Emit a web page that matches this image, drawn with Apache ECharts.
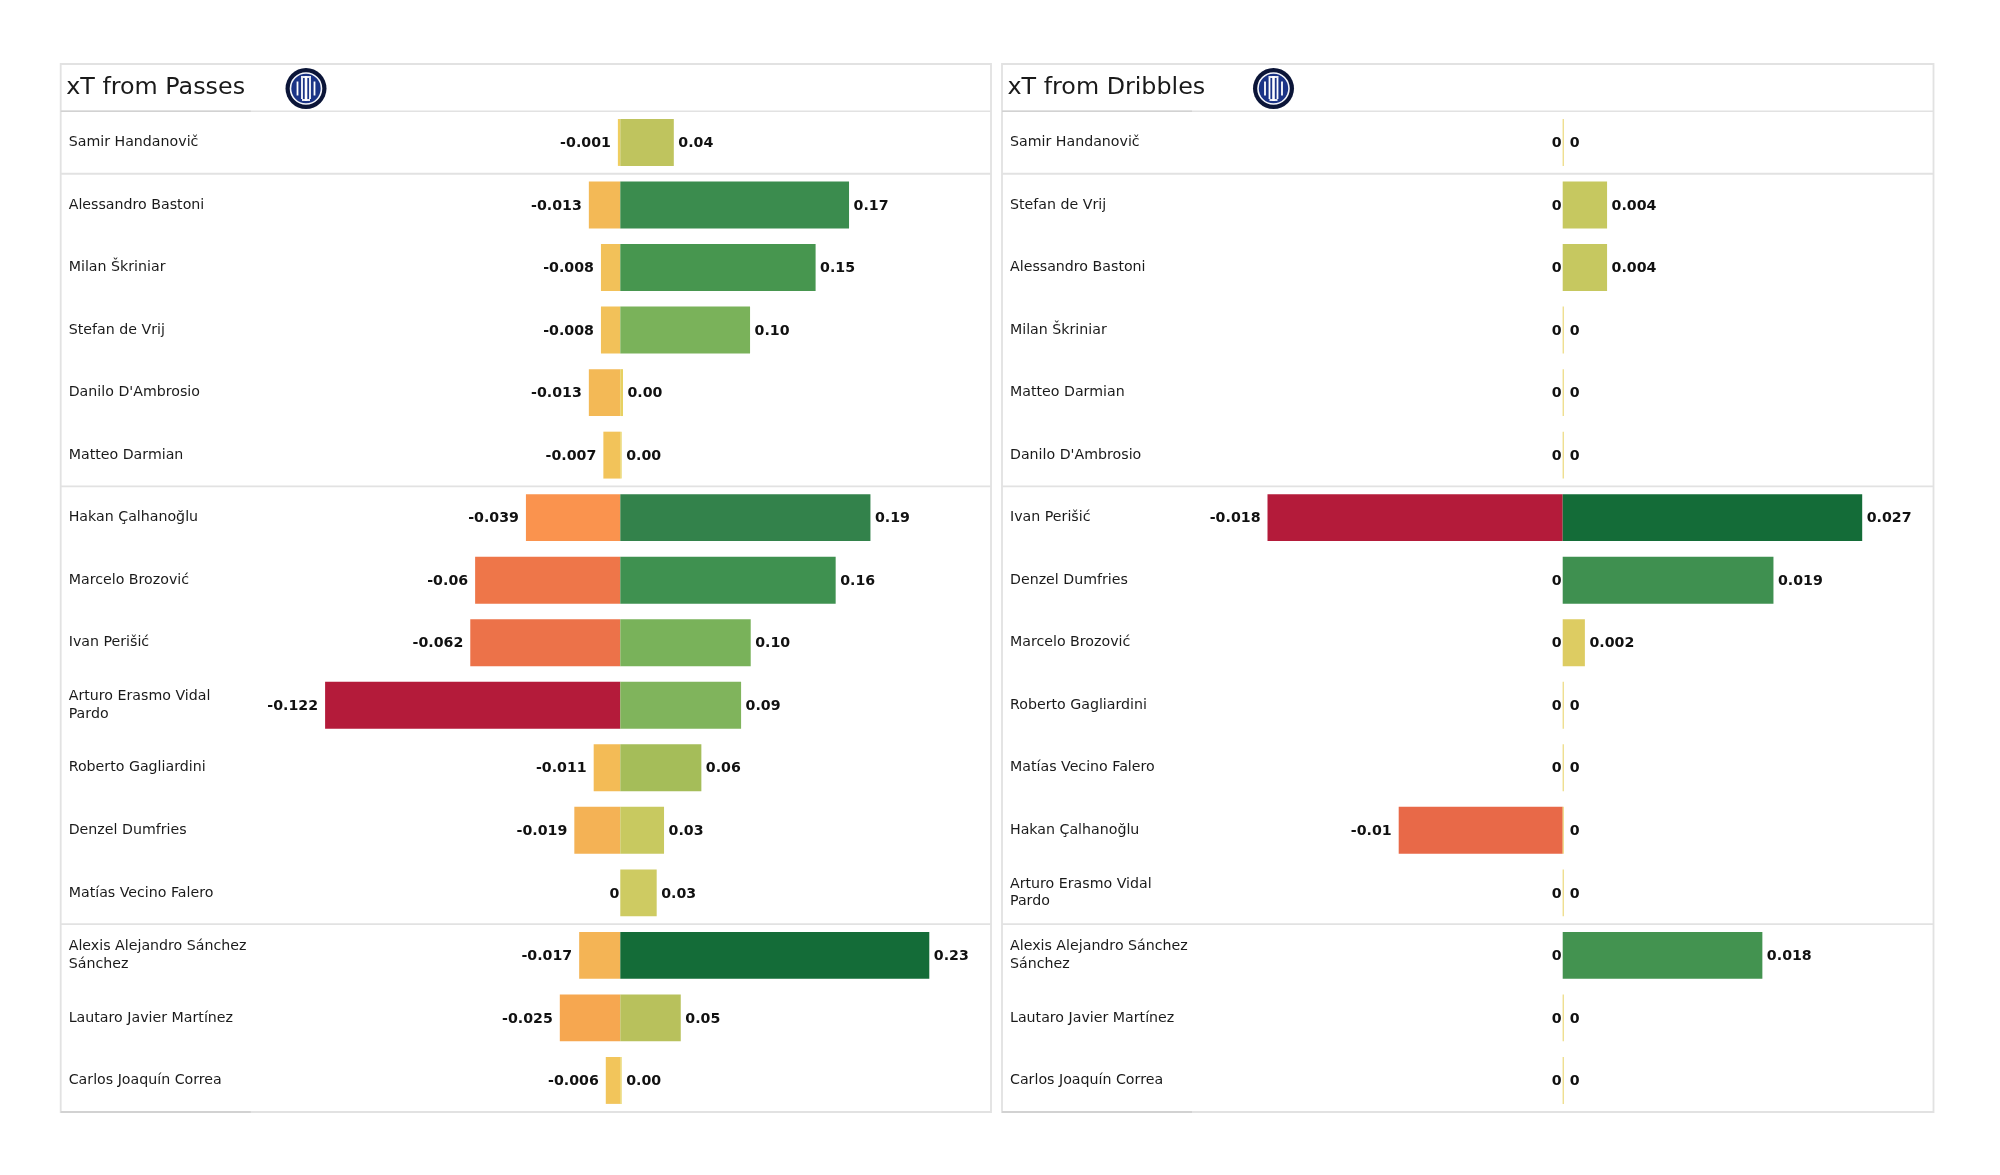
<!DOCTYPE html>
<html><head><meta charset="utf-8">
<style>html,body{margin:0;padding:0;background:#fff}#c{width:2000px;height:1175px}</style>
<script src="https://cdn.jsdelivr.net/npm/echarts@6/dist/echarts.min.js"></script>
</head><body><div id="c"></div>
<script>
const passPlayers = ["Samir Handanovič","Alessandro Bastoni","Milan Škriniar","Stefan de Vrij","Danilo D'Ambrosio","Matteo Darmian","Hakan Çalhanoğlu","Marcelo Brozović","Ivan Perišić","Arturo Erasmo Vidal\nPardo","Roberto Gagliardini","Denzel Dumfries","Matías Vecino Falero","Alexis Alejandro Sánchez\nSánchez","Lautaro Javier Martínez","Carlos Joaquín Correa"];
const passNeg = [-0.001,-0.013,-0.008,-0.008,-0.013,-0.007,-0.039,-0.06,-0.062,-0.122,-0.011,-0.019,0,-0.017,-0.025,-0.006];
const passPos = [0.040,0.171,0.146,0.097,0.002,0.001,0.187,0.161,0.0975,0.0903,0.0606,0.0327,0.0272,0.231,0.0452,0.001];
const dribPlayers = ["Samir Handanovič","Stefan de Vrij","Alessandro Bastoni","Milan Škriniar","Matteo Darmian","Danilo D'Ambrosio","Ivan Perišić","Denzel Dumfries","Marcelo Brozović","Roberto Gagliardini","Matías Vecino Falero","Hakan Çalhanoğlu","Arturo Erasmo Vidal\nPardo","Alexis Alejandro Sánchez\nSánchez","Lautaro Javier Martínez","Carlos Joaquín Correa"];
const dribNeg = [0,0,0,0,0,0,-0.018,0,0,0,0,-0.01,0,0,0,0];
const dribPos = [0,0.004,0.004,0,0,0,0.027,0.019,0.002,0,0,0,0,0.018,0,0];
const groupEnds = [0,5,12];

const FONT = '"DejaVu Sans"';
const gridTop = 111.2, gridH = 1000.5, rowH = gridH / 16;
const panels = [
  {title:'xT from Passes', left:60.7, right:991, zero:620.3, names:passPlayers, neg:passNeg, pos:passPos,
   negReach:295.2, posReach:309, fmt:v=>v.toFixed(2), logoX:306},
  {title:'xT from Dribbles', left:1002, right:1933.5, zero:1562.7, names:dribPlayers, neg:dribNeg, pos:dribPos,
   negReach:295.2, posReach:299.5, fmt:v=>v===0?'0':v.toFixed(3), logoX:1273.5}
];

const negStops = [[0,'#eed061'],[0.05,'#f2c55b'],[0.09,'#f3bb56'],[0.16,'#f4b155'],[0.2,'#f6a850'],[0.32,'#fa934e'],[0.49,'#ee7649'],[0.55,'#e96a48'],[1,'#b41b3a']];
const posStops = [[0,'#e8d262'],[0.074,'#ddcc62'],[0.12,'#cdcb62'],[0.148,'#c6c860'],[0.2,'#b7c05c'],[0.26,'#a6bd59'],[0.39,'#80b45c'],[0.42,'#7ab25a'],[0.63,'#47964f'],[0.7,'#3f9150'],[0.81,'#33824b'],[1,'#146c38']];
function hex(c){return [1,3,5].map(i=>parseInt(c.substr(i,2),16));}
function ramp(stops,t){
  for(let i=1;i<stops.length;i++){
    if(t<=stops[i][0]){
      const a=stops[i-1],b=stops[i],f=(t-a[0])/(b[0]-a[0]);
      const ca=hex(a[1]),cb=hex(b[1]);
      return 'rgb('+ca.map((x,k)=>Math.round(x+(cb[k]-x)*f)).join(',')+')';
    }
  }
  return stops[stops.length-1][1];
}

const grid=[],xAxis=[],yAxis=[],series=[],title=[],graphic=[];
const line='#e2e2e2', lineDark='#d2d2d2';
panels.forEach((p,k)=>{
  const w=p.right-p.left;
  grid.push({left:p.left,top:gridTop,width:w,height:gridH,containLabel:false});
  yAxis.push({type:'category',gridIndex:k,inverse:true,data:p.names,
    axisLine:{show:false},axisTick:{show:false},splitLine:{show:false},
    axisLabel:{inside:true,margin:8,align:'left',color:'#1a1a1a',fontFamily:FONT,fontSize:14.2,lineHeight:17.5,interval:0,padding:[5,0,0,0]}});
  const maxNeg=Math.max(...p.neg.map(Math.abs)), maxPos=Math.max(...p.pos);
  const sn=p.negReach/maxNeg, sp=p.posReach/maxPos;
  const hidden={type:'value',gridIndex:k,show:false,splitLine:{show:false}};
  xAxis.push(Object.assign({},hidden,{min:-(p.zero-p.left)/sn,max:(p.right-p.zero)/sn}));
  xAxis.push(Object.assign({},hidden,{min:-(p.zero-p.left)/sp,max:(p.right-p.zero)/sp}));
  const lab={show:true,color:'#111',fontFamily:FONT,fontSize:14.2,fontWeight:'bold',offset:[0,1]};
  series.push({type:'bar',name:p.title+' negative',xAxisIndex:2*k,yAxisIndex:k,barWidth:'75%',barGap:'-100%',z:2,
    data:p.neg.map(v=>({value:v,
      itemStyle:{color:ramp(negStops,Math.abs(v)/maxNeg)},
      label:Object.assign({},lab,{position:'left',distance:v===0?1:7,formatter:String(v)})}))});
  series.push({type:'bar',name:p.title+' positive',xAxisIndex:2*k+1,yAxisIndex:k,barWidth:'75%',barGap:'-100%',barMinHeight:1,z:3,
    data:p.pos.map(v=>({value:v,
      itemStyle:{color:ramp(posStops,v/maxPos)},
      label:Object.assign({},lab,{position:'right',distance:v===0?6:4.5,formatter:p.fmt(v)})}))});
  title.push({text:p.title,left:p.left+5.5,top:74,padding:0,textStyle:{fontFamily:FONT,fontSize:23.8,fontWeight:'normal',color:'#1a1a1a',lineHeight:28}});
  // frame
  graphic.push({type:'rect',silent:true,z:0,shape:{x:p.left,y:64,width:w,height:1048},style:{fill:'none',stroke:line,lineWidth:1.8}});
  const hl=(y,x2,c,lw)=>graphic.push({type:'line',silent:true,z:0,shape:{x1:p.left,y1:y,x2:x2,y2:y},style:{stroke:c,lineWidth:lw}});
  hl(gridTop,p.right,line,1.6);
  hl(gridTop,p.left+190,lineDark,1.6);
  hl(1112,p.left+190,lineDark,2);
  groupEnds.forEach(i=>hl(gridTop+(i+1)*rowH,p.right,line,1.8));
  // club crest
  const cx=p.logoX, cy=88.5;
  const crest=[
    {type:'circle',shape:{cx,cy,r:20.5},style:{fill:'#0b1538'}},
    {type:'circle',shape:{cx,cy,r:15.5},style:{fill:'#1b3486',stroke:'#f4f6fb',lineWidth:1.6}}
  ];
  [[-8.5,7],[-4,10.5],[0,12.5],[4,10.5],[8.5,7]].forEach((s,i)=>{
    crest.push({type:'line',shape:{x1:cx+s[0],y1:cy-s[1],x2:cx+s[0],y2:cy+s[1]},style:{stroke:'#fff',lineWidth:i===2?2.6:1.8}});
  });
  crest.push({type:'line',shape:{x1:cx-5,y1:cy-11.5,x2:cx+5,y2:cy-11.5},style:{stroke:'#fff',lineWidth:1.8}});
  crest.push({type:'line',shape:{x1:cx-4,y1:cy+11.5,x2:cx+4,y2:cy+11.5},style:{stroke:'#fff',lineWidth:1.8}});
  crest.forEach(c=>{c.silent=true;c.z=5;graphic.push(c);});
});

const chart=echarts.init(document.getElementById('c'),null,{renderer:'canvas',width:2000,height:1175});
chart.setOption({backgroundColor:'#fff',animation:false,tooltip:{show:false},title,grid,xAxis,yAxis,series,graphic});
</script></body></html>
